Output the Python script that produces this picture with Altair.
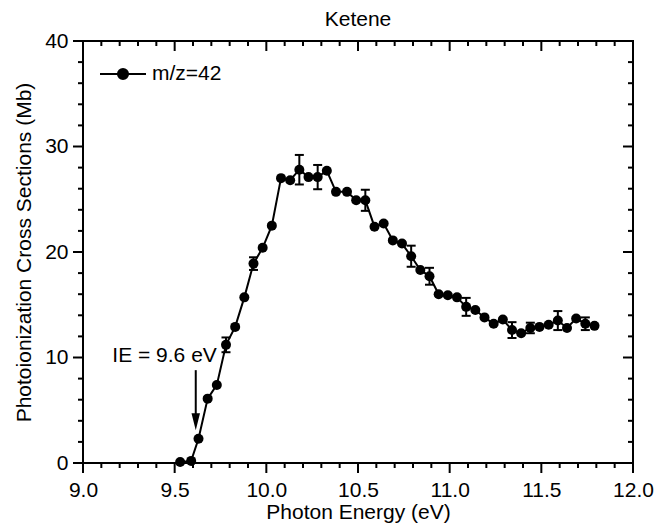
import altair as alt
import pandas as pd

# ---- data ----
energy = [9.53, 9.59, 9.63, 9.68, 9.73, 9.78, 9.83, 9.88, 9.93, 9.98,
          10.03, 10.08, 10.13, 10.18, 10.23, 10.28, 10.33, 10.38, 10.44, 10.49,
          10.54, 10.59, 10.64, 10.69, 10.74, 10.79, 10.84, 10.89, 10.94, 10.99,
          11.04, 11.09, 11.14, 11.19, 11.24, 11.29, 11.34, 11.39, 11.44, 11.49,
          11.54, 11.59, 11.64, 11.69, 11.74, 11.79]
sigma = [0.1, 0.2, 2.3, 6.1, 7.4, 11.2, 12.9, 15.7, 18.9, 20.4,
         22.5, 27.0, 26.8, 27.8, 27.1, 27.1, 27.7, 25.7, 25.7, 24.9,
         24.9, 22.4, 22.7, 21.1, 20.8, 19.6, 18.3, 17.7, 16.0, 15.9,
         15.7, 14.8, 14.5, 13.8, 13.2, 13.6, 12.6, 12.3, 12.8, 12.9,
         13.1, 13.5, 12.8, 13.7, 13.2, 13.0]
err = [0, 0, 0, 0, 0, 0.7, 0, 0, 0.6, 0,
       0, 0, 0, 1.4, 0, 1.15, 0, 0, 0, 0,
       1.0, 0, 0, 0, 0, 1.0, 0, 0.8, 0, 0,
       0, 0.85, 0, 0, 0, 0, 0.75, 0, 0.5, 0,
       0, 0.9, 0, 0, 0.6, 0]
series_name = "m/z=42"

x_major = [9.0, 9.5, 10.0, 10.5, 11.0, 11.5, 12.0]
x_minor = [9.1, 9.2, 9.3, 9.4, 9.6, 9.7, 9.8, 9.9, 10.1, 10.2, 10.3, 10.4,
           10.6, 10.7, 10.8, 10.9, 11.1, 11.2, 11.3, 11.4, 11.6, 11.7, 11.8, 11.9]
y_major = [0, 10, 20, 30, 40]
y_minor = [2, 4, 6, 8, 12, 14, 16, 18, 22, 24, 26, 28, 32, 34, 36, 38]
x_domain = [9, 12]
y_domain = [0, 40]
x_title = "Photon Energy (eV)"
y_title = "Photoionization Cross Sections (Mb)"

ie_label = "IE = 9.6 eV"
ie_text_x = 9.73
ie_text_y = 10.15
ie_arrow_x = 9.615
ie_arrow_top = 8.8
ie_arrow_head = 3.9

FONT = "Liberation Sans"
FS = 21
MAJ, MIN = 10, 5

df = pd.DataFrame({"E": energy, "S": sigma, "err": err, "series": series_name})
df["lo"] = df["S"] - df["err"]
df["hi"] = df["S"] + df["err"]
eb = df[df["err"] > 0].reset_index(drop=True)

xs = alt.Scale(domain=x_domain, nice=False, zero=False)
ys = alt.Scale(domain=y_domain, nice=False, zero=False)

XAX = alt.Axis(orient="bottom", values=x_major, format=".1f",
               tickSize=MAJ, tickOpacity=0, domain=False, grid=False,
               labelFont=FONT, labelFontSize=FS, labelColor="black",
               labelFlush=False, labelOverlap=False, labelPadding=6,
               titleFont=FONT, titleFontSize=FS, titleFontWeight="normal",
               titleColor="black", titlePadding=1)
YAX = alt.Axis(orient="left", values=y_major, format="d",
               tickSize=MAJ, tickOpacity=0, domain=False, grid=False,
               labelFont=FONT, labelFontSize=FS, labelColor="black",
               labelFlush=False, labelOverlap=False, labelPadding=5,
               titleFont=FONT, titleFontSize=FS, titleFontWeight="normal",
               titleColor="black", titlePadding=10)


def XE(field):
    return alt.X(field, scale=xs, axis=XAX, title=x_title)


def YE(field):
    return alt.Y(field, scale=ys, axis=YAX, title=y_title)


def xticks(values, at, length):
    t = pd.DataFrame({"v": values})
    return alt.Chart(t).mark_rule(color="black", strokeWidth=2, y2Offset=length).encode(
        x=XE("v:Q"),
        y=alt.YDatum(at, type="quantitative", scale=ys, axis=YAX, title=y_title),
        y2=alt.Y2Datum(at))


def yticks(values, at, length):
    t = pd.DataFrame({"v": values})
    return alt.Chart(t).mark_rule(color="black", strokeWidth=2, x2Offset=length).encode(
        y=YE("v:Q"),
        x=alt.XDatum(at, type="quantitative", scale=xs, axis=XAX, title=x_title),
        x2=alt.X2Datum(at))


tick_layers = [
    xticks(x_major, y_domain[0], MAJ), xticks(x_minor, y_domain[0], MIN),
    xticks(x_major, y_domain[1], MAJ), xticks(x_minor, y_domain[1], MIN),
    yticks(y_major, x_domain[0], -MAJ), yticks(y_minor, x_domain[0], -MIN),
    yticks(y_major, x_domain[1], -MAJ), yticks(y_minor, x_domain[1], -MIN),
]

# plot frame
frame_h = pd.DataFrame({"y": y_domain, "x1": [x_domain[0]] * 2, "x2": [x_domain[1]] * 2})
frame_v = pd.DataFrame({"x": x_domain, "y1": [y_domain[0]] * 2, "y2": [y_domain[1]] * 2})
frame1 = alt.Chart(frame_h).mark_rule(color="black", strokeWidth=2, strokeCap="square").encode(
    x=XE("x1:Q"), x2="x2:Q", y=YE("y:Q"))
frame2 = alt.Chart(frame_v).mark_rule(color="black", strokeWidth=2, strokeCap="square").encode(
    y=YE("y1:Q"), y2="y2:Q", x=XE("x:Q"))

line = alt.Chart(df).mark_line(color="black", strokeWidth=2).encode(x=XE("E:Q"), y=YE("S:Q"))

bars = alt.Chart(eb).mark_rule(color="black", strokeWidth=2).encode(
    x=XE("E:Q"), y=YE("lo:Q"), y2="hi:Q")
cap_lo = alt.Chart(eb).mark_rule(color="black", strokeWidth=2, xOffset=-4.5, x2Offset=4.5).encode(
    x=XE("E:Q"), x2="E:Q", y=YE("lo:Q"))
cap_hi = alt.Chart(eb).mark_rule(color="black", strokeWidth=2, xOffset=-4.5, x2Offset=4.5).encode(
    x=XE("E:Q"), x2="E:Q", y=YE("hi:Q"))

legend_path = ("M-1,0L1,0M-0.22,0A0.22,0.22 0 1,0 0.22,0"
               "A0.22,0.22 0 1,0 -0.22,0Z")
points = alt.Chart(df).mark_point(filled=True, size=100, opacity=1).encode(
    x=XE("E:Q"), y=YE("S:Q"),
    color=alt.Color("series:N", scale=alt.Scale(range=["black"]),
                    legend=alt.Legend(
                        title=None, orient="none", legendX=16, legendY=9,
                        padding=0, symbolType=legend_path, symbolSize=2116,
                        symbolStrokeWidth=2, symbolStrokeColor="black",
                        symbolFillColor="black", labelFont=FONT,
                        labelFontSize=FS, labelColor="black", labelOffset=5)),
)

ann_df = pd.DataFrame({"x": [ie_text_x], "y": [ie_text_y], "t": [ie_label],
                       "ax": [ie_arrow_x], "y1": [ie_arrow_top], "y2": [ie_arrow_head]})
ann_text = alt.Chart(ann_df).mark_text(
    align="right", baseline="middle", font=FONT, fontSize=FS, color="black").encode(
    x=XE("x:Q"), y=YE("y:Q"), text="t:N")
arrow_shaft = alt.Chart(ann_df).mark_rule(color="black", strokeWidth=2).encode(
    x=XE("ax:Q"), y=YE("y1:Q"), y2="y2:Q")
arrow_head = alt.Chart(ann_df).mark_point(
    shape="M-0.5,-1L0.5,-1L0,1Z", size=289, filled=True, color="black", opacity=1).encode(
    x=XE("ax:Q"), y=YE("y2:Q"))

chart = alt.layer(
    frame1, frame2, *tick_layers, line, bars, cap_lo, cap_hi, points,
    ann_text, arrow_shaft, arrow_head
).properties(
    width=550, height=422,
    autosize=alt.AutoSizeParams(type="none"),
    padding={"left": 83, "top": 41, "right": 26, "bottom": 61},
    title=alt.TitleParams("Ketene", font=FONT, fontSize=FS, fontWeight="normal",
                          color="black", anchor="middle", offset=0),
).configure_view(strokeWidth=0).configure(background="white")

chart.save("out.html", embed_options={"renderer": "svg", "actions": False})
